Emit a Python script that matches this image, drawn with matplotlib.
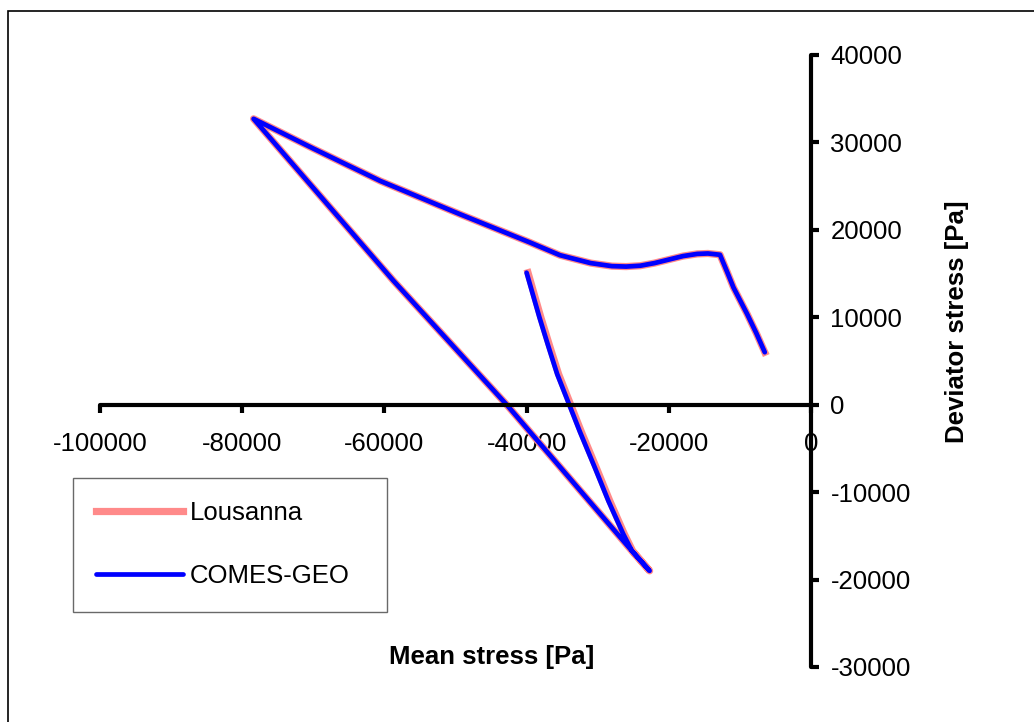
import matplotlib.pyplot as plt
from matplotlib.patches import Rectangle

plt.rcParams['font.family'] = ['Liberation Sans', 'DejaVu Sans']

# stress path: unloading branch, long loading line to the peak, then the upper curve
comes_x = [-40000, -38200, -36950, -35700, -34000, -32500, -30400, -28500, -26400,
           -25200, -22700,
           -25000, -42800, -58750, -78400,
           -70000, -60600, -49400, -39500, -35300, -31000, -28000, -26000, -24000,
           -22000, -20000, -18000, -16000, -14500, -12800, -11800, -10900, -9000,
           -7700, -6500]
comes_y = [15100, 10000, 6700, 3500, 0, -3100, -7200, -11000, -14800,
           -16700, -19000,
           -16900, 0, 14200, 32700,
           29300, 25600, 21800, 18550, 17100, 16200, 15850, 15800, 15900,
           16200, 16600, 17000, 17250, 17300, 17150, 15200, 13400, 10400,
           8200, 6000]

lousanna_x = [-39800, -38000, -36750, -35500, -33800, -32300, -30200, -28300, -26250,
              -25100, -22700,
              -25000, -42800, -58750, -78400,
              -70000, -60600, -49400, -39500, -35300, -31000, -28000, -26000, -24000,
              -22000, -20000, -18000, -16000, -14500, -12800, -11800, -10900, -9000,
              -7700, -6500]
lousanna_y = [15100, 10000, 6700, 3500, 0, -3100, -7200, -11000, -14800,
              -16700, -19000,
              -16900, 0, 14200, 32700,
              29300, 25600, 21800, 18550, 17100, 16200, 15850, 15800, 15900,
              16200, 16600, 17000, 17250, 17300, 17150, 15200, 13400, 10400,
              8200, 6000]

xticks = [-100000, -80000, -60000, -40000, -20000, 0]
yticks = [-30000, -20000, -10000, 0, 10000, 20000, 30000, 40000]

W, H = 1034, 722
fig = plt.figure(figsize=(W / 100, H / 100), dpi=100)

# chart area border
fig.patches.append(Rectangle((8 / W, -0.1), 1.2, 1.1 - 11 / H,
                             transform=fig.transFigure, fill=False,
                             edgecolor='black', linewidth=1.2))

ax = fig.add_axes([100 / W, 55 / H, 711 / W, 612 / H])
ax.set_xlim(-100000, 0)
ax.set_ylim(-30000, 40000)

ax.plot(lousanna_x, lousanna_y, color='#ff8a8a', linewidth=5.2,
        solid_joinstyle='round', label='Lousanna')
ax.plot(comes_x, comes_y, color='#0000ff', linewidth=3.4,
        solid_joinstyle='round', solid_capstyle='round', label='COMES-GEO')

ax.spines['left'].set_visible(False)
ax.spines['top'].set_visible(False)
ax.spines['bottom'].set_position(('data', 0))
ax.spines['right'].set_position(('data', 0))
for s in ('bottom', 'right'):
    ax.spines[s].set_linewidth(3.0)
    ax.spines[s].set_capstyle('round')

ax.yaxis.set_ticks_position('right')
ax.set_xticks(xticks)
ax.set_yticks(yticks)
ax.set_xticklabels([str(v) for v in xticks])
ax.set_yticklabels([str(v) for v in yticks])
ax.tick_params(axis='x', direction='out', length=6, width=3.0, pad=14, labelsize=18.5)
ax.tick_params(axis='y', direction='out', length=6, width=3.0, pad=8, labelsize=18.5)

fig.text(492 / W, 1 - 657 / H, 'Mean stress [Pa]', fontsize=18.5,
         fontweight='bold', ha='center', va='center')
fig.text(957 / W, 1 - 322 / H, 'Deviator stress [Pa]', fontsize=18.5,
         fontweight='bold', ha='center', va='center', rotation=90)

leg = ax.legend(loc='upper left',
                bbox_to_anchor=(73 / W, 1 - 478 / H - 0.01, 314 / W, 0.01),
                bbox_transform=fig.transFigure, mode='expand', fontsize=18.5,
                frameon=True, fancybox=False, borderpad=0.9, handlelength=3.4,
                handletextpad=0.25, labelspacing=1.53, borderaxespad=0)
leg.get_frame().set_edgecolor('#444444')
leg.get_frame().set_linewidth(1.0)

fig.savefig('out.png', dpi=100)
